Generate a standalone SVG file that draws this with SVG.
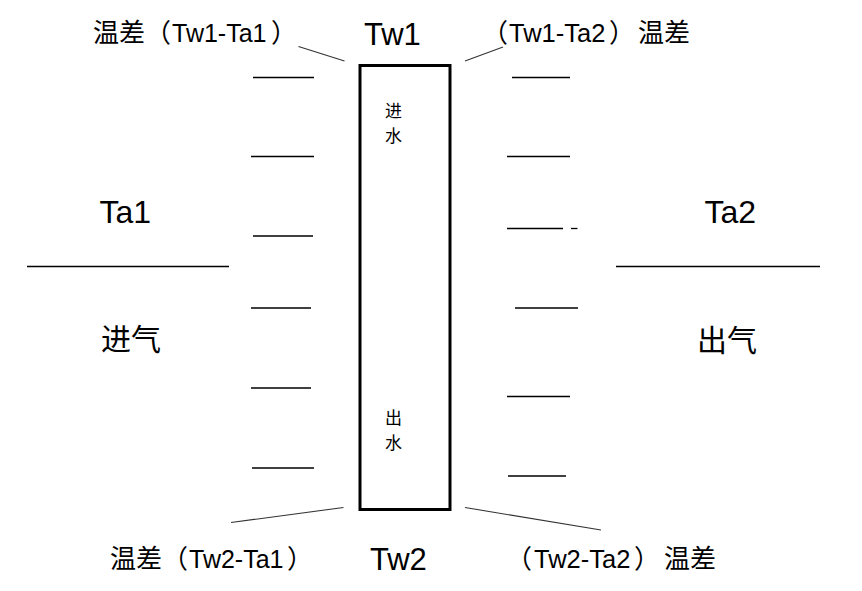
<svg xmlns="http://www.w3.org/2000/svg" width="862" height="591" viewBox="0 0 862 591">
<style>
.t{font-family:"Liberation Sans","Noto Sans CJK SC",sans-serif;fill:#000}
.cjk{font-family:"Noto Sans CJK SC",sans-serif;fill:#000}
.big{font-size:31px}
.lab{font-size:26px}
.lat{font-size:25px;font-family:"Liberation Sans",sans-serif}
.latw{font-size:25.5px;font-family:"Liberation Sans",sans-serif}
.tick{stroke:#000;stroke-width:1.3;fill:none}
.air{stroke:#000;stroke-width:1.5;fill:none}
.con{stroke:#333;stroke-width:1.1;fill:none}
</style>
<rect width="862" height="591" fill="#fff"/>
<g id="tube">
<rect x="360" y="65.5" width="90" height="444" fill="none" stroke="#000" stroke-width="3"/>
<text class="cjk" font-size="17" x="393.5" y="117" text-anchor="middle">进</text>
<text class="cjk" font-size="17" x="393.5" y="142" text-anchor="middle">水</text>
<text class="cjk" font-size="17" x="393.5" y="424" text-anchor="middle">出</text>
<text class="cjk" font-size="17" x="393.5" y="449" text-anchor="middle">水</text>
</g>
<g id="left-ticks">
<line class="tick" x1="253" y1="77.5" x2="314" y2="77.5"/>
<line class="tick" x1="251" y1="156.5" x2="314" y2="156.5"/>
<line class="tick" x1="253" y1="236" x2="313" y2="236"/>
<line class="tick" x1="251" y1="308" x2="311" y2="308"/>
<line class="tick" x1="251" y1="388" x2="311" y2="388"/>
<line class="tick" x1="252" y1="468" x2="314" y2="468"/>
</g>
<g id="right-ticks">
<line class="tick" x1="512" y1="77.5" x2="570" y2="77.5"/>
<line class="tick" x1="507" y1="156.5" x2="570" y2="156.5"/>
<line class="tick" x1="507" y1="228.5" x2="563" y2="228.5"/>
<line class="tick" x1="571" y1="228.5" x2="577.5" y2="228.5"/>
<line class="tick" x1="515" y1="308" x2="578" y2="308"/>
<line class="tick" x1="507" y1="396.5" x2="570" y2="396.5"/>
<line class="tick" x1="508" y1="476" x2="566" y2="476"/>
</g>
<g id="air-in">
<line class="air" x1="27" y1="266.5" x2="229" y2="266.5"/>
<text class="t" font-size="32" x="99.5" y="223">Ta1</text>
<text class="cjk" font-size="30" x="101" y="350">进气</text>
</g>
<g id="air-out">
<line class="air" x1="616" y1="266.5" x2="820" y2="266.5"/>
<text class="t" font-size="32" x="704.5" y="222.5">Ta2</text>
<text class="cjk" font-size="30" x="697" y="351">出气</text>
</g>
<g id="tw1">
<text class="t big" x="364" y="44.5">Tw1</text>
</g>
<g id="tw2">
<text class="t big" x="370" y="569.5">Tw2</text>
</g>
<g id="label-tl">
<text class="cjk lab" y="42"><tspan x="93">温差</tspan><tspan x="145">（</tspan><tspan class="lat" x="172">Tw1-Ta1</tspan><tspan x="271">）</tspan></text>
</g>
<g id="label-tr">
<text class="cjk lab" y="42"><tspan x="482">（</tspan><tspan class="latw" x="509">Tw1-Ta2</tspan><tspan x="609">）</tspan><tspan x="638">温差</tspan></text>
</g>
<g id="label-bl">
<text class="cjk lab" y="568"><tspan x="110">温差</tspan><tspan x="162">（</tspan><tspan class="lat" x="189">Tw2-Ta1</tspan><tspan x="287">）</tspan></text>
</g>
<g id="label-br">
<text class="cjk lab" y="568"><tspan x="506">（</tspan><tspan class="latw" x="534">Tw2-Ta2</tspan><tspan x="634">）</tspan><tspan x="664">温差</tspan></text>
</g>
<g id="connectors">
<line class="con" x1="298.5" y1="46.5" x2="344.5" y2="61"/>
<line class="con" x1="465" y1="61" x2="503" y2="47"/>
<line class="con" x1="231" y1="522.5" x2="343.5" y2="507.5"/>
<line class="con" x1="465" y1="507.5" x2="601" y2="530"/>
</g>
</svg>
